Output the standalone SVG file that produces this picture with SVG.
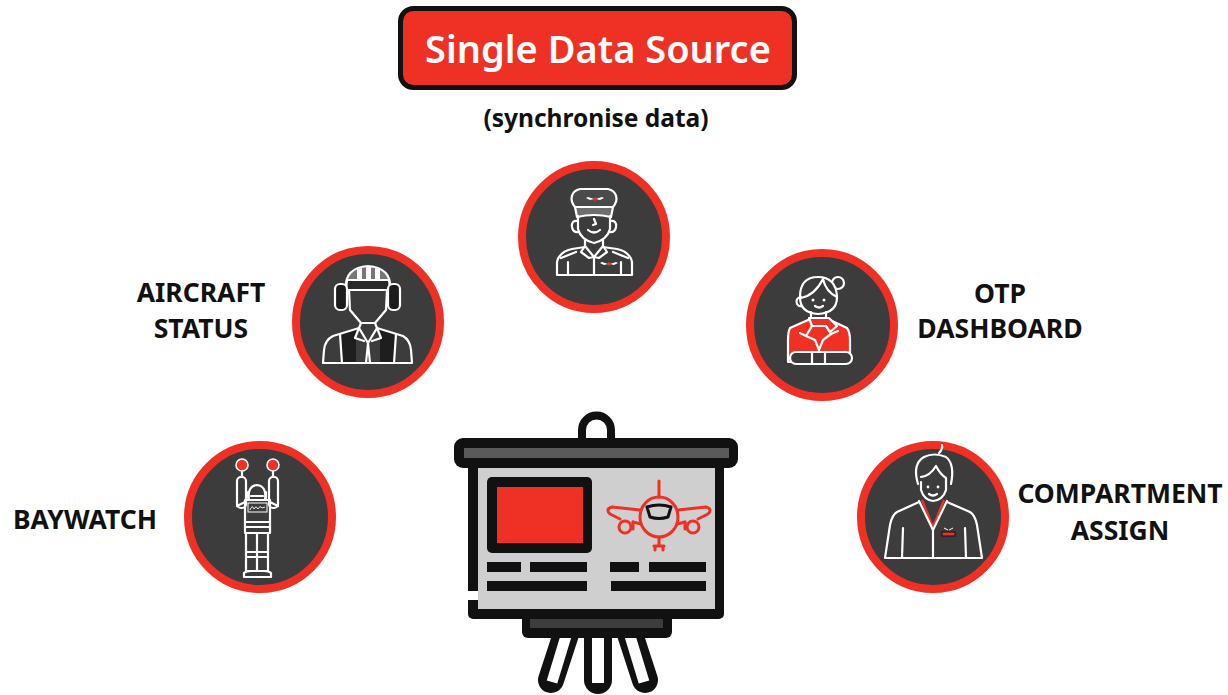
<svg xmlns="http://www.w3.org/2000/svg" width="1228" height="695" viewBox="0 0 1228 695">
  <style>
    .ring { fill: #3c3c3c; stroke: #ee3124; stroke-width: 8; }
    .ln { fill: none; stroke: #ffffff; stroke-width: 2.2; stroke-linejoin: round; stroke-linecap: round; }
    .lnf { stroke: #ffffff; stroke-width: 2.2; stroke-linejoin: round; stroke-linecap: round; }
    .lbl { font-family: "Noto Sans", "Open Sans", "Liberation Sans", sans-serif; font-weight: 700; font-size: 26.5px; fill: #111111; text-anchor: middle; }
    .title { font-family: "Noto Sans", "Open Sans", "Liberation Sans", sans-serif; font-weight: 600; font-size: 38px; fill: #ffffff; text-anchor: middle; }
    .sub { font-family: "Noto Sans", "Open Sans", "Liberation Sans", sans-serif; font-weight: 700; font-size: 24.5px; fill: #111111; text-anchor: middle; }
    .plane { fill: none; stroke: #ee3124; stroke-width: 3; stroke-linecap: round; stroke-linejoin: round; }
  </style>
  <defs>
    <!-- tiny winged badge used on caps and uniforms -->
    <g id="wings">
      <path d="M -1 0 L -7 -2 L -9 -1 L -5 1 Z M 1 0 L 7 -2 L 9 -1 L 5 1 Z" fill="#ffffff"/>
      <circle cx="0" cy="0" r="1.8" fill="#ee3124"/>
    </g>
  </defs>

  <rect width="1228" height="695" fill="#ffffff"/>

  <!-- title -->
  <g id="title">
    <rect x="400.5" y="8.5" width="394" height="79" rx="13" fill="#ee3124" stroke="#111111" stroke-width="5"/>
    <text class="title" x="598" y="63">Single Data Source</text>
    <text class="sub" x="596" y="127">(synchronise data)</text>
  </g>

  <!-- no connecting lines between the roles -->
  <g id="connectors"/>

  <!-- pilot -->
  <g id="node-pilot">
    <circle class="ring" cx="594" cy="237" r="72"/>
    <path class="lnf" fill="#4a4a4a" d="M 575 207 C 569 200 571 191 580 189 L 608 189 C 617 191 619 200 613 207 Z"/>
    <path class="lnf" fill="#6e6e6e" d="M 575 207 L 613 207 L 611 217 Q 594 213 577 217 Z"/>
    <use href="#wings" x="595" y="199"/>
    <path class="ln" d="M 578 216 L 578 229 Q 581 240 594 243 Q 607 240 610 229 L 610 216"/>
    <path class="ln" d="M 578 221 Q 571 220 572 227 Q 573 233 579 232"/>
    <path class="ln" d="M 610 221 Q 617 220 616 227 Q 615 233 609 232"/>
    <path class="ln" d="M 594 219 L 596 224 L 593 225"/>
    <path class="ln" d="M 588 230 Q 594 235 600 230"/>
    <path class="ln" d="M 585 240 L 585 247 M 603 240 L 603 247"/>
    <path class="ln" d="M 585 246 L 594 257 L 603 246 M 585 246 L 581 252 L 589 258 L 594 257 M 603 246 L 607 252 L 599 258 L 594 257"/>
    <path class="ln" d="M 594 257 L 594 275"/>
    <path class="ln" d="M 585 247 L 572 249 Q 559 252 557 262 L 557 275 L 632 275 L 632 262 Q 630 252 617 249 L 603 247"/>
    <path class="ln" d="M 561 258 L 576 252 M 628 258 L 613 252"/>
    <path class="ln" d="M 568 262 L 568 275 M 621 262 L 621 275"/>
    <use href="#wings" x="609" y="264"/>
  </g>

  <!-- ground crew with helmet and ear muffs -->
  <g id="node-aircraft-status">
    <circle class="ring" cx="368" cy="322" r="72"/>
    <path class="lnf" fill="#777777" d="M 346 289 Q 344 268 368 266 Q 392 268 390 289 Z"/>
    <path d="M 357 269 L 362 268 L 362 280 L 357 280 Z M 366 267 L 371 267 L 371 280 L 366 280 Z M 375 268 L 380 269 L 380 280 L 375 280 Z" fill="#ffffff"/>
    <path class="lnf" fill="#2a2a2a" d="M 347 280 L 389 280 L 390 290 L 346 290 Z"/>
    <rect class="lnf" x="335" y="284" width="12" height="26" rx="5" fill="#1c1c1c"/>
    <rect class="lnf" x="388" y="284" width="12" height="26" rx="5" fill="#1c1c1c"/>
    <path class="ln" d="M 349 290 L 350 310 L 361 323 L 375 323 L 386 310 L 387 290"/>
    <path d="M 340 333 L 356 328 L 356 363 L 342 363 Z M 396 333 L 380 328 L 380 363 L 394 363 Z" fill="#1e1e1e"/>
    <path class="ln" d="M 361 323 L 359 328 L 368 343 L 377 328 L 375 323"/>
    <path class="ln" d="M 359 328 L 333 336 Q 325 340 324 350 L 323 363 L 412 363 L 411 350 Q 410 340 403 336 L 377 328"/>
    <path class="ln" d="M 359 328 L 355 338 L 364 341 M 377 328 L 381 338 L 372 341"/>
    <path class="ln" d="M 368 343 L 366 363 M 368 343 L 370 363"/>
    <path class="ln" d="M 340 334 L 342 363 M 396 334 L 394 363"/>
  </g>

  <!-- cabin crew -->
  <g id="node-otp-dashboard">
    <circle class="ring" cx="822" cy="325" r="72"/>
    <circle class="ln" cx="838" cy="283" r="6"/>
    <path class="lnf" fill="#3c3c3c" d="M 800 297 Q 800 277 818 277 Q 836 277 837 297 Q 837 313 818 314 Q 800 313 800 297 Z"/>
    <path class="ln" d="M 801 298 Q 815 295 823 279 Q 826 292 837 297"/>
    <path class="ln" d="M 801 297 Q 795 298 797 304 Q 799 307 802 306"/>
    <circle cx="813" cy="300" r="1.5" fill="#ffffff"/>
    <circle cx="824" cy="300" r="1.5" fill="#ffffff"/>
    <path class="ln" d="M 815 306 Q 819 309 823 306"/>
    <path class="ln" d="M 811 312 L 811 319 M 826 312 L 826 319"/>
    <path class="lnf" fill="#ee3124" d="M 808 320 L 790 328 Q 788 332 788 340 L 788 362 L 850 362 L 850 340 Q 850 332 847 328 L 830 320 Z"/>
    <path class="lnf" fill="#ee3124" d="M 809 318 L 829 318 L 837 326 L 830 332 L 826 326 L 812 326 Z"/>
    <path class="ln" d="M 812 326 L 806 336 L 815 340 L 819 350 L 823 340 L 831 334 L 826 326"/>
    <path class="ln" d="M 806 336 L 800 333 M 831 334 L 838 331"/>
    <rect class="lnf" x="790" y="352" width="62" height="12" rx="6" fill="#3c3c3c"/>
    <path class="ln" d="M 812 352 L 812 364 M 825 352 L 825 364"/>
  </g>

  <!-- marshaller -->
  <g id="node-baywatch">
    <circle class="ring" cx="260" cy="517" r="72"/>
    <path class="ln" d="M 242 471 L 242 477 M 273 471 L 273 477"/>
    <circle cx="242" cy="465" r="6" fill="#ee3124" stroke="#ffffff" stroke-width="1.6"/>
    <circle cx="273" cy="465" r="6" fill="#ee3124" stroke="#ffffff" stroke-width="1.6"/>
    <rect class="ln" x="237" y="477" width="9" height="31" rx="4"/>
    <rect class="ln" x="269" y="477" width="9" height="31" rx="4"/>
    <path class="ln" d="M 249 500 Q 247 486 257 485 Q 267 486 265 500"/>
    <path class="ln" d="M 248 492 L 248 498 M 266 492 L 266 498 M 251 496 L 263 496"/>
    <path class="ln" d="M 245 500 L 270 500 L 270 533 L 245 533 Z"/>
    <path class="ln" d="M 245 502 L 237 506 M 270 502 L 278 506"/>
    <rect x="248" y="503" width="19" height="9" fill="none" stroke="#ffffff" stroke-width="1"/>
    <path d="M 250 510 Q 252 504 254 509 Q 256 505 258 509 Q 260 505 262 508 L 265 507" fill="none" stroke="#ffffff" stroke-width="0.9"/>
    <path class="ln" d="M 245 522 L 270 522 M 245 527 L 270 527"/>
    <path class="ln" d="M 246 533 L 246 571 L 257 571 L 257 533 M 257 571 L 268 571 L 268 533"/>
    <path class="ln" d="M 246 552 L 257 552 M 246 557 L 257 557 M 257 552 L 268 552 M 257 557 L 268 557"/>
    <path class="ln" d="M 244 577 L 244 573 Q 246 571 251 571 M 271 577 L 271 573 Q 269 571 264 571 M 244 577 L 271 577"/>
  </g>

  <!-- crew member with red collar -->
  <g id="node-compartment-assign">
    <circle class="ring" cx="933" cy="517" r="72"/>
    <path class="ln" d="M 918 484 Q 912 464 924 457 Q 934 452 946 457 Q 955 464 951 484"/>
    <path class="ln" d="M 939 453 Q 943 449 942 445"/>
    <path class="ln" d="M 921 482 L 921 490 Q 924 500 933 501 Q 943 500 946 490 L 946 478 Q 940 474 936 466 Q 930 476 921 477"/>
    <circle cx="928" cy="487" r="1.4" fill="#ffffff"/>
    <circle cx="938" cy="487" r="1.4" fill="#ffffff"/>
    <path class="ln" d="M 929 494 Q 933 497 937 494"/>
    <path d="M 922 500 L 933 527 L 944 500" fill="none" stroke="#ee3124" stroke-width="2.4"/>
    <path class="ln" d="M 919 501 L 933 530 L 947 501"/>
    <path class="ln" d="M 919 502 L 897 512 Q 892 515 890 525 L 885 558 L 982 558 L 977 525 Q 975 515 970 512 L 947 502"/>
    <path class="ln" d="M 903 528 L 902 558 M 965 528 L 966 558 M 933 530 L 933 558"/>
    <rect x="942" y="532" width="13" height="4" fill="#ee3124" stroke="#111111" stroke-width="1"/>
    <path d="M 948 530 L 944 528 M 949 530 L 953 528" stroke="#ffffff" stroke-width="1"/>
  </g>

  <!-- presentation board with flight view -->
  <g id="node-board">
    <path d="M 582 444 L 582 430 A 14.5 14.5 0 0 1 611 430 L 611 444" fill="none" stroke="#111111" stroke-width="8"/>
    <!-- legs -->
    <g stroke-linecap="round">
      <line x1="566" y1="634" x2="551" y2="680" stroke="#111111" stroke-width="26"/>
      <line x1="598" y1="634" x2="598" y2="680" stroke="#111111" stroke-width="28"/>
      <line x1="630" y1="634" x2="645" y2="680" stroke="#111111" stroke-width="26"/>
    </g>
    <line x1="566" y1="636" x2="552" y2="682" stroke="#ffffff" stroke-width="11"/>
    <line x1="598" y1="636" x2="598" y2="683" stroke="#ffffff" stroke-width="12"/>
    <line x1="630" y1="636" x2="644" y2="682" stroke="#ffffff" stroke-width="11"/>
    <!-- lower bar -->
    <rect x="522" y="610" width="150" height="28" rx="6" fill="#111111"/>
    <rect x="530" y="619" width="133" height="9" fill="#3d3d3d"/>
    <!-- screen -->
    <rect x="468" y="462" width="256" height="157" rx="5" fill="#111111"/>
    <rect x="478" y="466" width="237" height="143" fill="#cfcfcf"/>
    <rect x="466" y="591" width="12" height="9" fill="#ffffff"/>
    <!-- top roller -->
    <rect x="454" y="438" width="284" height="30" rx="9" fill="#111111"/>
    <rect x="464" y="448" width="265" height="10" fill="#5a5a5a"/>
    <!-- red panel -->
    <rect x="487" y="477" width="105" height="76" rx="5" fill="#111111"/>
    <rect x="497" y="487" width="86" height="56" fill="#ee3124"/>
    <!-- text bars -->
    <g fill="#111111">
      <rect x="487" y="562" width="34" height="10"/>
      <rect x="530" y="562" width="57" height="10"/>
      <rect x="610" y="562" width="29" height="10"/>
      <rect x="649" y="562" width="57" height="10"/>
      <rect x="487" y="581" width="100" height="10"/>
      <rect x="611" y="581" width="95" height="10"/>
    </g>
    <!-- airplane, front view -->
    <g class="plane">
      <line x1="659" y1="481" x2="659" y2="497"/>
      <ellipse cx="659" cy="517" rx="19" ry="20"/>
      <path d="M 640 510 L 612 507 Q 605 509 610 514 L 620 519 M 633 522 L 641 524"/>
      <path d="M 678 510 L 706 507 Q 713 509 708 514 L 698 519 M 685 522 L 677 524"/>
      <circle cx="625" cy="527" r="6"/>
      <circle cx="693" cy="527" r="6"/>
      <line x1="633" y1="522" x2="633" y2="529"/>
      <line x1="685" y1="522" x2="685" y2="529"/>
      <path d="M 659 537 L 659 546 M 654 546 L 664 546 M 655 546 L 655 550 M 663 546 L 663 550"/>
    </g>
    <path d="M 647 507 Q 659 503 671 507 L 668 517 Q 659 520 650 517 Z" fill="none" stroke="#111111" stroke-width="3" stroke-linejoin="round"/>
  </g>

  <!-- role labels -->
  <g id="labels">
    <text class="lbl" x="201" y="302">AIRCRAFT</text>
    <text class="lbl" x="201" y="338">STATUS</text>
    <text class="lbl" x="1000" y="303">OTP</text>
    <text class="lbl" x="1000" y="338">DASHBOARD</text>
    <text class="lbl" x="85" y="529">BAYWATCH</text>
    <text class="lbl" x="1120" y="503">COMPARTMENT</text>
    <text class="lbl" x="1120" y="540">ASSIGN</text>
  </g>
</svg>
